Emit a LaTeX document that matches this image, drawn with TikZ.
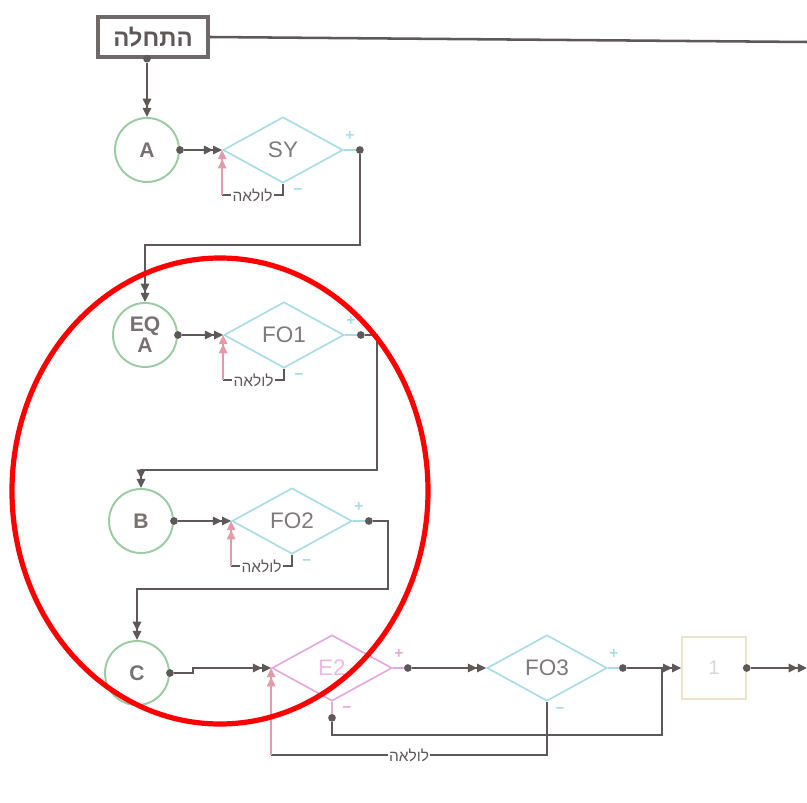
\documentclass[tikz,border=0pt]{standalone}
\usepackage{fontspec}
\setmainfont{Liberation Sans}
\newfontfamily\hebfont[Script=Hebrew]{Liberation Sans}
\TeXXeTstate=1
\usepackage{xcolor}
\usepackage{tikz}
\usetikzlibrary{positioning, calc, shapes.geometric, arrows.meta}
\definecolor{ink}{HTML}{5F5858}
\definecolor{leaf}{HTML}{9CCBA4}
\definecolor{sky}{HTML}{A9DCE6}
\definecolor{orchid}{HTML}{E6A9DE}
\definecolor{rose}{HTML}{E29BAA}
\definecolor{sand}{HTML}{ECE5CC}
\newcommand{\heb}[1]{{\hebfont\beginR #1\endR}}

\begin{document}
\begin{tikzpicture}[x=0.25mm, y=-0.25mm,
  ln/.style={draw=ink, line width=1.2pt},
  dbl/.style={-{Triangle[length=6.5pt,width=6pt]Triangle[length=6.5pt,width=6pt]}},
  dot/.style={circle, fill=ink, inner sep=0pt, minimum size=5.5pt},
  circ/.style={circle, draw=leaf, line width=1.4pt, minimum size=16mm, inner sep=0pt,
               font=\bfseries\fontsize{15}{15}\selectfont, text=ink!85, align=center},
  cond/.style={diamond, draw=sky, line width=1.2pt, minimum width=30mm, minimum height=16.5mm,
               shape aspect=2, inner sep=1pt, font=\fontsize{16}{18}\selectfont, text=ink!80},
  sgn/.style={font=\bfseries\fontsize{11}{11}\selectfont, text=sky, inner sep=0pt},
  lbl/.style={fill=white, inner sep=1pt, font=\fontsize{11}{12}\selectfont, text=ink},
  back/.style={draw=rose, line width=1.1pt}
]
  \useasboundingbox (0,0) rectangle (807,803);

  \node[draw=ink!90, line width=2.4pt, minimum width=27.5mm, minimum height=10mm,
        font=\bfseries\fontsize{17}{18}\selectfont, text=ink] (start) at (153,37) {\heb{התחלה}};
  \coordinate (tr) at (807,42);
  \draw[ln, line width=1.8pt] (start.east) -- (tr);

  \node[circ] (A) at (147,150) {A};
  \node[circ] (eqa) at (145,335) {EQ\\A};
  \node[circ] (B) at (141,521) {B};
  \node[circ] (C) at (137,673) {C};

  \node[cond] (sy) at (283,150) {SY};
  \node[cond] (fo1) at (284,335) {FO1};
  \node[cond] (fo2) at (292,521) {FO2};
  \node[cond, draw=orchid, text=orchid!80] (e2) at (332,668) {E2};
  \node[cond] (fo3) at (547,668) {FO3};
  \node[draw=sand, line width=1pt, minimum width=16mm, minimum height=15.5mm,
        text=ink!25, font=\fontsize{14}{16}\selectfont] (one) at (714,668) {1};

  % loops back into the tests
  \foreach \n in {sy, fo1, fo2} {
    \coordinate (\n-l) at ($(\n.west)+(0,45)$);
    \draw[ln, line width=0.8pt] (\n.south) |- node[lbl, pos=0.75] {\heb{לולאה}} (\n-l);
    \draw[back, dbl] (\n-l) -- (\n.west);
    \node[sgn] (\n-p) at ($(\n.east)+(6,-14)$) {+};
    \node[sgn] (\n-m) at ($(\n.south)+(15,8)$) {−};
    \node[dot] (\n-o) at ($(\n.east)+(16,0)$) {};
    \draw[sky, line width=1pt] (\n.east) -- (\n-o);
  }

  \node[dot] (st-o) at (A.north |- start.south) {};
  \draw[ln, dbl] (st-o) -- (A.north);
  \node[dot] (a-o) at (A.east) {};
  \draw[ln, dbl] (a-o) -- (sy.west);
  \draw[ln, dbl] (sy-o) -- ++(0,95) -| (eqa.north);

  \node[dot] (eqa-o) at (eqa.east) {};
  \draw[ln, dbl] (eqa-o) -- (fo1.west);
  \draw[ln, dbl] (fo1-o) -- ++(16,0) -- ++(0,135) -| (B.north);

  \node[dot] (b-o) at (B.east) {};
  \draw[ln, dbl] (b-o) -- (fo2.west);
  \draw[ln, dbl] (fo2-o) -- ++(19,0) -- ++(0,68) -| (C.north);

  \node[dot] (c-o) at (C.east) {};
  \draw[ln, dbl] (c-o) -- ++(23,0) |- (e2.west);

  \node[sgn, text=orchid] (e2-p) at ($(e2.east)+(6,-14)$) {+};
  \node[sgn, text=orchid] (e2-m) at ($(e2.south)+(15,8)$) {−};
  \node[dot] (e2-o) at ($(e2.east)+(15,0)$) {};
  \draw[orchid, line width=1pt] (e2.east) -- (e2-o);
  \node[dot] (e2-d) at ($(e2.south)+(0,16)$) {};
  \draw[orchid, line width=1pt] (e2.south) -- (e2-d);
  \draw[ln, dbl] (e2-o) -- (fo3.west);

  \node[sgn] (fo3-p) at ($(fo3.east)+(6,-14)$) {+};
  \node[sgn] (fo3-m) at ($(fo3.south)+(13,9)$) {−};
  \node[dot] (fo3-o) at ($(fo3.east)+(15,0)$) {};
  \draw[sky, line width=1pt] (fo3.east) -- (fo3-o);
  \draw[ln, dbl] (fo3-o) -- (one.west);

  \coordinate (jn) at (662,735);
  \draw[ln] (e2-d) |- (jn) -- (jn |- one.west);

  \coordinate (e2-l) at ($(e2.west)+(0,87)$);
  \draw[ln, line width=0.8pt] (fo3.south) |- node[lbl, pos=0.75] {\heb{לולאה}} (e2-l);
  \draw[back, dbl] (e2-l) -- (e2.west);

  \node[dot] (one-o) at (one.east) {};
  \coordinate (out) at (807,668);
  \draw[ln, dbl] (one-o) -- (out);

  \draw[red, line width=1.3mm] (220,491) ellipse [x radius=52mm, y radius=58.25mm];
\end{tikzpicture}
\end{document}
